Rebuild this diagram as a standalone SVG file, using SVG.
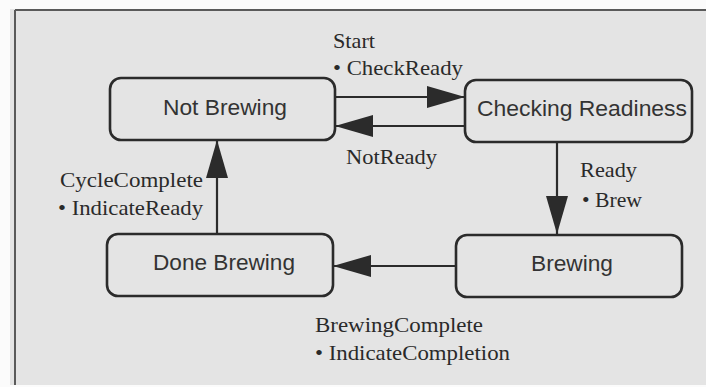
<svg xmlns="http://www.w3.org/2000/svg" width="706" height="387" viewBox="0 0 706 387">
  <style>
    .state rect { fill: none; stroke: #2b2b2b; stroke-width: 2.6; }
    .state text { font-family: "Liberation Sans", Arial, sans-serif; font-size: 22px; fill: #333; text-anchor: start; }
    .edge { stroke: #2b2b2b; stroke-width: 2.2; fill: none; marker-end: url(#head); }
    .lbl { font-family: "Liberation Serif", "Times New Roman", serif; font-size: 21px; fill: #2a2a2a; }
  </style>
  <defs>
    <marker id="head" markerUnits="userSpaceOnUse" markerWidth="40" markerHeight="24" refX="38" refY="11" orient="auto" overflow="visible">
      <path d="M0,0 L38,11 L0,22 Z" fill="#2b2b2b"/>
    </marker>
  </defs>

  <!-- page -->
  <rect x="0" y="0" width="706" height="387" fill="#fbfbfb"/>
  <rect x="10" y="9" width="696" height="376" fill="#e4e4e4"/>
  <line x1="15" y1="10" x2="15" y2="385" stroke="#5a5a5a" stroke-width="2"/>
  <line x1="15" y1="10" x2="706" y2="10" stroke="#5a5a5a" stroke-width="2"/>

  <!-- states -->
  <g id="not-brewing" class="state">
    <rect x="110" y="78" width="225" height="62" rx="11"/>
    <text x="163" y="115" textLength="124" lengthAdjust="spacingAndGlyphs">Not Brewing</text>
  </g>
  <g id="checking-readiness" class="state">
    <rect x="465" y="80" width="227" height="62" rx="11"/>
    <text x="477" y="116" textLength="210" lengthAdjust="spacingAndGlyphs">Checking Readiness</text>
  </g>
  <g id="brewing" class="state">
    <rect x="456" y="235" width="226" height="62" rx="11"/>
    <text x="531" y="271" textLength="82" lengthAdjust="spacingAndGlyphs">Brewing</text>
  </g>
  <g id="done-brewing" class="state">
    <rect x="107" y="234" width="226" height="62" rx="11"/>
    <text x="153" y="270" textLength="142" lengthAdjust="spacingAndGlyphs">Done Brewing</text>
  </g>

  <!-- transitions -->
  <g id="connectors">
    <line class="edge" x1="335" y1="97" x2="465" y2="97"/>
    <line class="edge" x1="465" y1="126" x2="335" y2="126"/>
    <line class="edge" x1="557" y1="142" x2="557" y2="234"/>
    <line class="edge" x1="456" y1="266" x2="333" y2="266"/>
    <line class="edge" x1="217" y1="234" x2="217" y2="140"/>
  </g>

  <!-- transition labels -->
  <g id="labels" class="lbl">
    <text x="333" y="48" textLength="42" lengthAdjust="spacingAndGlyphs">Start</text>
    <text x="333" y="75" textLength="130" lengthAdjust="spacingAndGlyphs">• CheckReady</text>
    <text x="346" y="164" textLength="91" lengthAdjust="spacingAndGlyphs">NotReady</text>
    <text x="580" y="177" textLength="57" lengthAdjust="spacingAndGlyphs">Ready</text>
    <text x="582" y="207" textLength="60" lengthAdjust="spacingAndGlyphs">• Brew</text>
    <text x="60" y="187" textLength="143" lengthAdjust="spacingAndGlyphs">CycleComplete</text>
    <text x="58" y="215" textLength="145" lengthAdjust="spacingAndGlyphs">• IndicateReady</text>
    <text x="315" y="332" textLength="168" lengthAdjust="spacingAndGlyphs">BrewingComplete</text>
    <text x="315" y="360" textLength="195" lengthAdjust="spacingAndGlyphs">• IndicateCompletion</text>
  </g>
</svg>
